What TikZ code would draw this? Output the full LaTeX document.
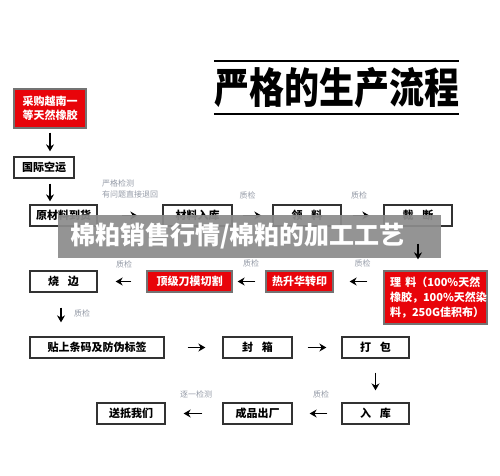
\documentclass[tikz,border=0pt]{standalone}
\usepackage{fontspec}
\usepackage{graphicx}
\newfontfamily\cjk{Noto Sans CJK SC}
\usetikzlibrary{arrows.meta}
\definecolor{hotred}{RGB}{232,4,10}
\definecolor{notegray}{RGB}{150,156,168}
\definecolor{boxline}{RGB}{50,50,50}
\tikzset{
  procbox/.style={draw=boxline, line width=1.3pt, fill=white, inner sep=0pt,
    minimum height=21pt, font=\cjk\bfseries\fontsize{11}{14}\selectfont},
  hotbox/.style={procbox, draw=black!55, fill=hotred, text=white},
  note/.style={text=notegray, inner sep=0pt, font=\cjk\fontsize{8}{11}\selectfont},
  flow/.style={-{Stealth[length=7pt,width=8pt]}, line width=1.6pt},
}
\begin{document}
\begin{tikzpicture}[x=1pt,y=-1pt]
  \useasboundingbox (0,0) rectangle (500,475);

  % Title
  \node[inner sep=0pt, minimum width=245pt, minimum height=53pt,
        font=\cjk\bfseries\fontsize{35}{40}\selectfont] (title) at (336.5,87.5)
        {\scalebox{1}[1.2]{严格的生产流程}};
  \draw[line width=2.2pt] (title.north west) -- (title.north east);
  \draw[line width=2.2pt] (title.south west) -- (title.south east);

  % Column 0: buying and shipping
  \node[hotbox, minimum width=72pt, minimum height=39pt, align=center] (caigou) at (50,108.5)
        {采购越南一\\等天然橡胶};
  \node[procbox, minimum width=60pt] (guoji) at (44,167.5) {国际空运};

  % Row 1: left to right
  \node[procbox, minimum width=67pt] (yuan) at (63.5,215.5) {原材料到货};
  \node[procbox, minimum width=69pt] (ruku1) at (197.5,215.5) {材料入库};
  \node[procbox, minimum width=68pt] (lingliao) at (307,215.5) {领\hspace{0.8em}料};
  \node[procbox, minimum width=68pt] (caiduan) at (418,215.5) {裁\hspace{0.8em}断};

  % Row 2: right to left
  \node[hotbox, minimum width=103pt, minimum height=53pt, align=left,
        text width=91pt, font=\cjk\bfseries\fontsize{11}{15}\selectfont] (liliao) at (435.5,297.5)
        {理\hspace{0.4em}料（100\%天然\\橡胶，100\%天然染\\料，250G佳积布）};
  \node[hotbox, minimum width=67pt] (rexing) at (299.5,281.5) {热升华转印};
  \node[hotbox, minimum width=85pt] (dingji) at (189.5,281.5) {顶级刀模切割};
  \node[procbox, minimum width=67pt] (shaobian) at (63.5,281.5) {烧\hspace{0.8em}边};

  % Row 3: left to right
  \node[procbox, minimum width=134pt] (tieshang) at (97,347.5) {贴上条码及防伪标签};
  \node[procbox, minimum width=69pt] (fengxiang) at (257.5,347.5) {封\hspace{0.8em}箱};
  \node[procbox, minimum width=67pt] (dabao) at (375.5,347.5) {打\hspace{0.8em}包};

  % Row 4: right to left
  \node[procbox, minimum width=67pt] (ruku2) at (375.5,413.5) {入\hspace{0.8em}库};
  \node[procbox, minimum width=69pt] (chengpin) at (257.5,413.5) {成品出厂};
  \node[procbox, minimum width=68pt] (songdi) at (131,413.5) {送抵我们};

  % Notes over the arrows
  \node[note, anchor=west, align=left] (jiance) at (102,188.5) {严格检测\\有问题直接退回};
  \node[note] (zj1) at (247.5,195) {质检};
  \node[note] (zj2) at (359,195) {质检};
  \node[note] (zj3) at (362.5,263) {质检};
  \node[note] (zj4) at (251,263) {质检};
  \node[note] (zj5) at (124,264) {质检};
  \node[note, anchor=west] (zj6) at (74,313) {质检};
  \node[note] (zhuyi) at (196,394) {逐一检测};
  \node[note] (zj7) at (321,394) {质检};

  % Arrows down the left side
  \draw[flow, shorten <=4pt, shorten >=5pt] (caigou.south) -- (caigou.south |- guoji.north);
  \draw[flow, shorten <=5pt, shorten >=3pt] (guoji.south -| caigou.south) -- (caigou.south |- yuan.north);

  % Arrows of row 1
  \draw[flow, shorten <=24pt, shorten >=25pt] (yuan) -- (ruku1);
  \draw[flow, shorten <=10pt, shorten >=11pt] (ruku1) -- (lingliao);
  \draw[flow, shorten <=11pt, shorten >=14pt] (lingliao) -- (caiduan);

  % Arrows of row 2
  \draw[flow, shorten <=16pt, shorten >=16pt] (rexing.east -| liliao.west) -- (rexing.east);
  \draw[flow, shorten <=10pt, shorten >=5pt] (rexing) -- (dingji);
  \draw[flow, shorten <=15pt, shorten >=18pt] (dingji) -- (shaobian);
  \draw[flow, shorten <=15pt, shorten >=14pt] ([xshift=-2.5pt]shaobian.south) -- ([xshift=-2.5pt]shaobian.south |- tieshang.north);

  % Arrows of row 3
  \draw[flow, shorten <=23pt, shorten >=17pt] (tieshang) -- (fengxiang);
  \draw[flow, shorten <=15pt, shorten >=15pt] (fengxiang) -- (dabao);
  \draw[flow, shorten <=14pt, shorten >=12pt] (dabao) -- (ruku2);

  % Arrows of row 4
  \draw[flow, shorten <=14pt, shorten >=17pt] (ruku2) -- (chengpin);
  \draw[flow, shorten <=20pt, shorten >=18pt] (chengpin) -- (songdi);

  % Banner laid over the chart
  \node[fill=black!45, fill opacity=0.93, text opacity=1, text=white, inner sep=0pt,
        minimum width=383pt, minimum height=43pt, text width=359pt, align=left,
        font=\cjk\bfseries\fontsize{25}{28}\selectfont] (banner) at (249.5,236.5)
        {棉粕销售行情/棉粕的加工工艺};

  % this one sits on top of the banner
  \draw[flow, shorten <=17pt, shorten >=11pt] (caiduan.south) -- (liliao.north -| caiduan.south);
\end{tikzpicture}
\end{document}
